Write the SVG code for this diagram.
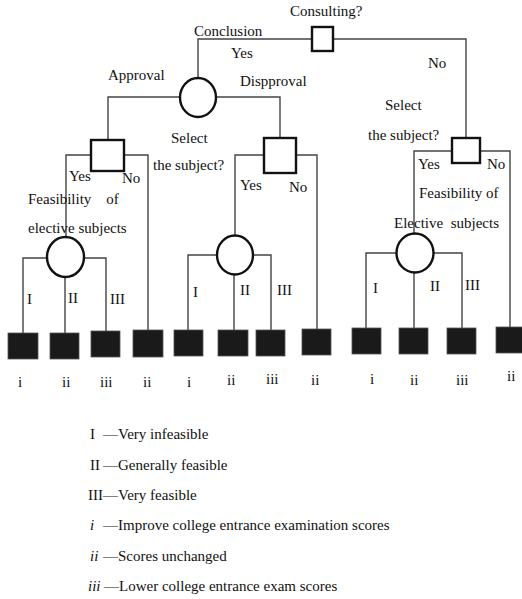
<svg xmlns="http://www.w3.org/2000/svg" width="522" height="599" viewBox="0 0 522 599">
<style>
text{font-family:"Liberation Serif","Times New Roman",serif;font-size:15px;fill:#111}
.c{fill:none;stroke:#444;stroke-width:1.4}
.dec{fill:#fff;stroke:#111;stroke-width:2.4}
.ch{fill:#fff;stroke:#111;stroke-width:2.4}
.leaf{fill:#1a1a1a;stroke:#555;stroke-width:0.8}
.it{font-style:italic}
</style>
<rect width="522" height="599" fill="#fff"/>
<g id="connectors">
<polyline class="c" points="198,78 198,39 466,39 466,138"/>
<polyline class="c" points="108,140 108,97 280,97 280,138"/>
<polyline class="c" points="66,238 66,155 148,155 148,330"/>
<polyline class="c" points="235,235 235,155 317,155 317,329"/>
<polyline class="c" points="414,233 414,151 510,151 510,327"/>
<polyline class="c" points="23,333 23,258 106,258 106,331"/>
<line class="c" x1="65" y1="277" x2="65" y2="333"/>
<polyline class="c" points="188,330 188,255 271,255 271,330"/>
<line class="c" x1="234" y1="274" x2="234" y2="330"/>
<polyline class="c" points="366,328 366,253 462,253 462,328"/>
<line class="c" x1="414" y1="272" x2="414" y2="328"/>
</g>
<g id="n-consult"><rect class="dec" x="312" y="27" width="21" height="24"/><text x="290" y="16">Consulting?</text></g>
<g id="n-conclusion"><ellipse class="ch" cx="198" cy="97.5" rx="18" ry="19.5"/></g>
<g id="n-left-select"><rect class="dec" x="91" y="140" width="33" height="31"/></g>
<g id="n-mid-select"><rect class="dec" x="264" y="138" width="32" height="35"/></g>
<g id="n-right-select"><rect class="dec" x="452" y="138" width="28" height="25"/></g>
<g id="n-left-feas"><ellipse class="ch" cx="65.5" cy="257" rx="18.5" ry="20"/></g>
<g id="n-mid-feas"><ellipse class="ch" cx="235" cy="255" rx="18" ry="19.5"/></g>
<g id="n-right-feas"><ellipse class="ch" cx="415" cy="253" rx="18.5" ry="19.5"/></g>
<g id="leaves">
<rect class="leaf" x="8" y="333" width="30" height="26"/>
<rect class="leaf" x="50" y="333" width="29" height="26"/>
<rect class="leaf" x="91" y="331" width="29" height="26"/>
<rect class="leaf" x="133" y="330" width="30" height="27"/>
<rect class="leaf" x="174" y="330" width="29" height="26"/>
<rect class="leaf" x="218" y="330" width="30" height="26"/>
<rect class="leaf" x="256" y="330" width="29" height="26"/>
<rect class="leaf" x="302" y="329" width="29" height="26"/>
<rect class="leaf" x="352" y="328" width="29" height="26"/>
<rect class="leaf" x="399" y="328" width="29" height="26"/>
<rect class="leaf" x="447" y="328" width="29" height="26"/>
<rect class="leaf" x="496" y="327" width="28" height="26"/>
</g>
<g id="labels">
<text x="194" y="36">Conclusion</text>
<text x="231" y="58">Yes</text>
<text x="428" y="68">No</text>
<text x="108" y="80">Approval</text>
<text x="240" y="86">Dispproval</text>
<text x="385" y="110">Select</text>
<text x="368" y="140">the subject?</text>
<text x="171" y="143">Select</text>
<text x="153" y="170">the subject?</text>
<text x="69" y="181">Yes</text>
<text x="122" y="183">No</text>
<text x="28" y="204" xml:space="preserve">Feasibility    of</text>
<text x="28" y="233">elective subjects</text>
<text x="240" y="190">Yes</text>
<text x="289" y="192">No</text>
<text x="418" y="169">Yes</text>
<text x="487" y="169">No</text>
<text x="419" y="198">Feasibility of</text>
<text x="394" y="228" xml:space="preserve">Elective  subjects</text>
<text x="27" y="304">I</text>
<text x="68" y="303">II</text>
<text x="110" y="304">III</text>
<text x="193" y="297">I</text>
<text x="240" y="295">II</text>
<text x="277" y="295">III</text>
<text x="373" y="293">I</text>
<text x="430" y="291">II</text>
<text x="465" y="290">III</text>
<text x="18" y="387">i</text>
<text x="62" y="387">ii</text>
<text x="100" y="387">iii</text>
<text x="143" y="387">ii</text>
<text x="187" y="387">i</text>
<text x="227" y="385">ii</text>
<text x="266" y="384">iii</text>
<text x="311" y="385">ii</text>
<text x="370" y="384">i</text>
<text x="410" y="385">ii</text>
<text x="456" y="385">iii</text>
<text x="507" y="381">ii</text>
</g>
<g id="legend">
<text x="90" y="439">I</text><text x="103" y="439">—Very infeasible</text>
<text x="90" y="470">II</text><text x="103" y="470">—Generally feasible</text>
<text x="88" y="500">III</text><text x="103" y="500">—Very feasible</text>
<text x="90" y="530" class="it">i</text><text x="103" y="530">—Improve college entrance examination scores</text>
<text x="90" y="561" class="it">ii</text><text x="103" y="561">—Scores unchanged</text>
<text x="88" y="591" class="it">iii</text><text x="104" y="591">—Lower college entrance exam scores</text>
</g>
</svg>
